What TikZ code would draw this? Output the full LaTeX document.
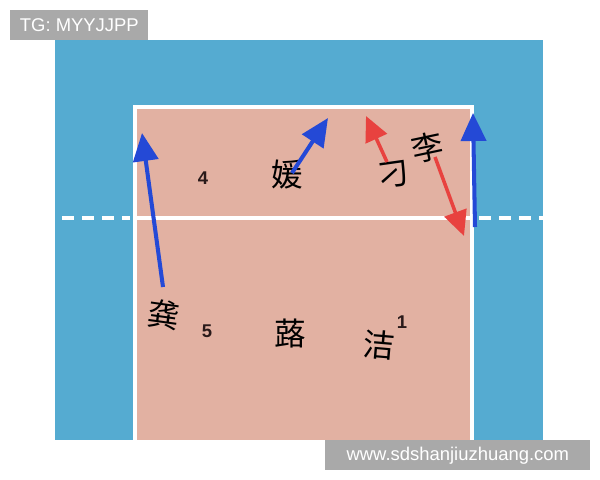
\documentclass[tikz,border=0pt]{standalone}
\usepackage{fontspec}
\setmainfont{Liberation Sans}
\newfontfamily\cjk{Noto Sans CJK SC}
\usetikzlibrary{arrows.meta}
\definecolor{poolblue}{HTML}{55ABD1}
\definecolor{courtpink}{HTML}{E2B1A2}
\definecolor{arrowblue}{HTML}{2449D6}
\definecolor{arrowred}{HTML}{E8423F}
\definecolor{numdark}{HTML}{2A1A1A}
\definecolor{markgray}{HTML}{A9A9A9}

\begin{document}
\begin{tikzpicture}[x=0.02cm,y=-0.02cm,
    num/.style={font=\bfseries\fontsize{10.5}{10.5}\selectfont, text=numdark, inner sep=0pt},
    player/.style={font=\cjk\fontsize{18}{18}\selectfont, inner sep=0pt},
    watermark/.style={fill=markgray, text=white, font=\fontsize{10.5}{10.5}\selectfont, inner sep=0pt},
    runblue/.style={draw=arrowblue, line width=2.3pt, -{Triangle[length=0.56cm,width=0.5cm]}},
    runred/.style={draw=arrowred, line width=2pt, -{Triangle[length=0.5cm,width=0.46cm]}},
    courtline/.style={draw=white, line width=2.2pt},
    dashline/.style={draw=white, line width=2.4pt, dash pattern=on 0.24cm off 0.16cm}]
  \useasboundingbox[fill=white] (0,0) rectangle (600,480);

  % background and court
  \fill[poolblue] (55,40) rectangle (543,440);
  \fill[courtpink] (135,107) rectangle (472,440);
  \draw[courtline] (135,440) -- (135,107) -- (472,107) -- (472,440);
  \draw[courtline] (135,218) -- (472,218);
  \draw[dashline] (62,218) -- (130,218);
  \draw[dashline] (479,218) -- (543,218);

  % positions
  \node[num] (p4) at (203,178) {4};
  \node[num] (p5) at (207,331) {5};
  \node[num] (p1) at (402,322) {1};

  % players
  \node[player, rotate=-8] (gong) at (164,315) {龚};
  \node[player] (yuan) at (287,175) {媛};
  \node[player, rotate=8] (diao) at (394,175) {刁};
  \node[player, rotate=12] (li) at (427,147) {李};
  \node[player] (lu) at (290,334) {蕗};
  \node[player, rotate=-5] (jie) at (379,345) {洁};

  % runs
  \coordinate (gongend) at (142,133);
  \coordinate (yuanend) at (328,118);
  \coordinate (diaoend) at (366,116);
  \coordinate (liend) at (464,236);
  \coordinate (rightstart) at (475,227);
  \coordinate (rightend) at (473,113);
  \draw[runblue] ([shift={(-1,-28)}]gong.center) -- (gongend);
  \draw[runblue] ([shift={(5,-2)}]yuan.center) -- (yuanend);
  \draw[runred] ([shift={(-7,-13)}]diao.center) -- (diaoend);
  \draw[runred] ([shift={(8,10)}]li.center) -- (liend);
  \draw[runblue] (rightstart) -- (rightend);

  % watermarks
  \node[watermark, minimum width=138*0.02cm, minimum height=30*0.02cm,
        anchor=north west] (tg) at (10,10) {TG: MYYJJPP};
  \node[watermark, minimum width=265*0.02cm, minimum height=30*0.02cm,
        anchor=north west] (site) at (325,440) {www.sdshanjiuzhuang.com};
\end{tikzpicture}
\end{document}
